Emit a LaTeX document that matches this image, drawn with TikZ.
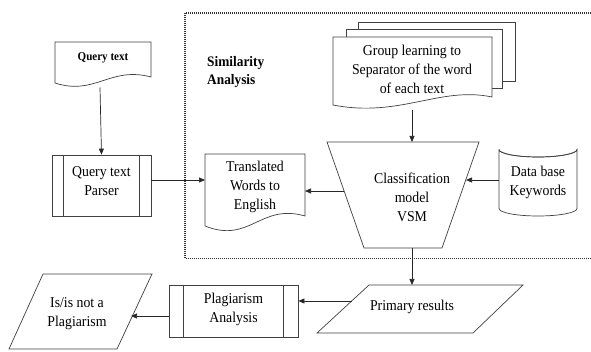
\documentclass[tikz,border=0pt]{standalone}
\usepackage{fontspec}
\setmainfont{Liberation Serif}
\newfontfamily\condserif[FakeStretch=0.92]{Liberation Serif}
\usetikzlibrary{arrows.meta}
\begin{document}
\begin{tikzpicture}[x=1pt,y=-1pt,
  shp/.style={draw=black!75, line width=0.7pt},
  arr/.style={draw=black!85, line width=0.7pt, -{Triangle[length=6pt,width=5pt]}},
  txt/.style={font=\condserif\fontsize{15}{19}\selectfont, align=center, inner sep=0pt},
  btxt/.style={font=\condserif\bfseries\fontsize{14.5}{18}\selectfont, align=left, inner sep=0pt},
  dots/.style={draw=black!80, line width=1.1pt, dash pattern=on 1pt off 1pt}
]
\useasboundingbox (0,0) rectangle (591,352);

% dotted region
\draw[dots] (591,13) -- (185,13) -- (185,258.5) -- (591,258.5);
\node[btxt, anchor=north west] (sim) at (207,56) {Similarity\\Analysis};

% Query text document
\draw[shp, fill=white] (55,83) -- (55,42) -- (151,42) -- (151,77)
  .. controls (110,66) and (95,96) .. cycle;
\node[txt, font=\condserif\bfseries\fontsize{12}{14}\selectfont] (qt) at (103,58) {Query text};
\coordinate (qtb) at (100,87.5);

% Parser (predefined process)
\node[shp, minimum width=99pt, minimum height=61pt, inner sep=0pt] (parser) at (101.5,185.5) {};
\draw[shp] ([xshift=12pt]parser.north west) -- ([xshift=12pt]parser.south west);
\draw[shp] ([xshift=-12pt]parser.north east) -- ([xshift=-12pt]parser.south east);
\node[txt] (parsertxt) at (101.5,181) {Query text\\Parser};

% Translated document
\draw[shp, fill=white] (205,226) -- (205,154) -- (305,154) -- (305,216)
  .. controls (260,203) and (250,244) .. cycle;
\node[txt] (trans) at (255,187) {Translated\\Words to\\English};
\coordinate (transL) at (205,180);
\coordinate (transR) at (305,191);

% Group learning stacked documents
\draw[shp, fill=white] (358,22) rectangle (515,81);
\draw[shp, fill=white] (346,29) rectangle (502,88);
\draw[shp, fill=white] (333,105) -- (333,37) -- (492,37) -- (492,97)
  .. controls (440,86) and (400,118) .. cycle;
\node[txt] (group) at (412,69) {Group learning to\\Separator of the word\\of each text};
\coordinate (groupb) at (412,110);

% Classification trapezoid
\draw[shp, fill=white] (327,142) -- (479,142) -- (442,248) -- (364,248) -- cycle;
\node[txt] (cls) at (412,197) {Classification\\model\\VSM};
\coordinate (clsT) at (412,142);
\coordinate (clsB) at (412,248);
\coordinate (clsL) at (344,191);
\coordinate (clsR) at (466,180);

% Database cylinder
\draw[shp, fill=white] (499,149.5) -- (499,208.5) arc[start angle=180, end angle=360, x radius=39, y radius=-7.5]
  -- (577,149.5) arc[start angle=0, end angle=-180, x radius=39, y radius=-7.5];
\draw[shp] (499,149.5) arc[start angle=180, end angle=360, x radius=39, y radius=-7.5];
\node[txt] (db) at (538,182) {Data base\\Keywords};
\coordinate (dbL) at (499,180);

% Primary results parallelogram
\draw[shp, fill=white] (369,285) -- (523,285) -- (473,333) -- (317,333) -- cycle;
\node[txt] (prim) at (412,307) {Primary results};
\coordinate (primT) at (412,285);
\coordinate (primL) at (351.5,301);

% Plagiarism analysis (predefined process)
\node[shp, minimum width=129pt, minimum height=52pt, inner sep=0pt] (plag) at (233.5,311) {};
\draw[shp] ([xshift=15pt]plag.north west) -- ([xshift=15pt]plag.south west);
\draw[shp] ([xshift=-15pt]plag.north east) -- ([xshift=-15pt]plag.south east);
\node[txt] (plagtxt) at (233.5,309) {Plagiarism\\Analysis};

% Is/is not parallelogram
\draw[shp, fill=white] (43,274) -- (152,274) -- (117,349) -- (9,349) -- cycle;
\node[txt] (isnot) at (77,314) {Is/is not a\\Plagiarism};
\coordinate (isnotR) at (131,316);

% connectors
\draw[arr] (qtb) -- (parser.north);
\draw[arr] (parser.east |- transL) -- (transL);
\draw[arr] (groupb) -- (clsT);
\draw[arr] (clsL) -- (transR);
\draw[arr] (dbL) -- (clsR);
\draw[arr] (clsB) -- (primT);
\draw[arr] (primL) -- (plag.east |- primL);
\draw[arr] (plag.west |- isnotR) -- (isnotR);
\end{tikzpicture}
\end{document}
